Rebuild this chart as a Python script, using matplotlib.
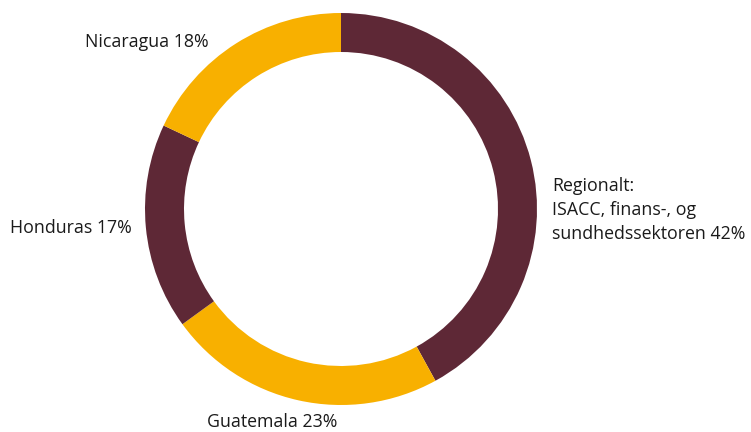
import matplotlib.pyplot as plt

labels = ['Regionalt:\nISACC, finans-, og\nsundhedssektoren 42%', 'Guatemala 23%',
          'Honduras 17%', 'Nicaragua 18%']
shares = [42, 23, 17, 18]
colors = ['#5E2836', '#F8B000', '#5E2836', '#F8B000']

plt.rcParams['font.family'] = ['Open Sans', 'DejaVu Sans']

fig = plt.figure(figsize=(7.51, 4.32), dpi=100)
ax = fig.add_axes([0, 0, 1, 1])
ax.set_xlim(0, 751)
ax.set_ylim(0, 432)
ax.set_aspect('equal')
ax.axis('off')

# work in pixel coords, y measured from bottom
ax.pie(shares, colors=colors, startangle=90, counterclock=False,
       center=(341, 432 - 209), radius=196,
       wedgeprops=dict(width=39, edgecolor='none'))
ax.set_xlim(0, 751)
ax.set_ylim(0, 432)

fs = 12.8
ax.text(552, 432 - 210, labels[0], fontsize=fs, ha='left', va='center',
        linespacing=1.45, color='#1a1a1a')
ax.text(207, 432 - 422, labels[1], fontsize=fs, ha='left', va='center', color='#1a1a1a')
ax.text(10, 432 - 228, labels[2], fontsize=fs, ha='left', va='center', color='#1a1a1a')
ax.text(85, 432 - 42, labels[3], fontsize=fs, ha='left', va='center', color='#1a1a1a')

fig.savefig('out.png', dpi=100)
